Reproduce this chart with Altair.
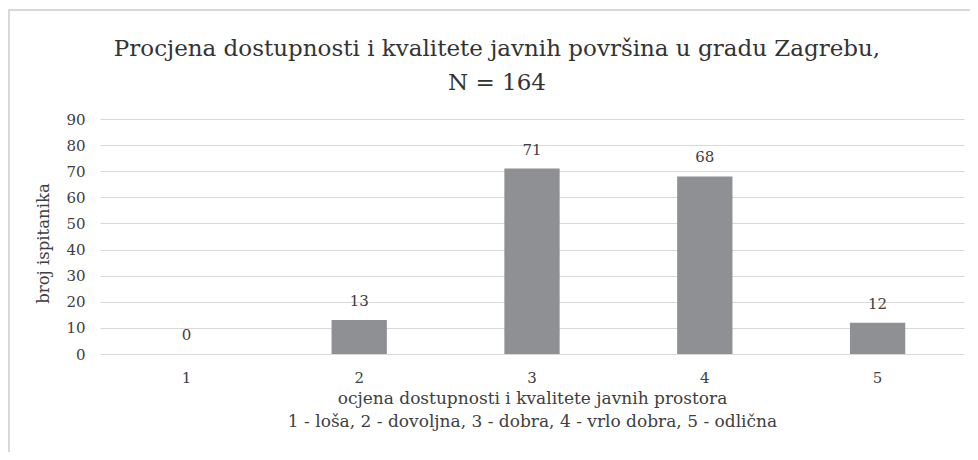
import altair as alt
import pandas as pd

categories = ["1", "2", "3", "4", "5"]
counts = [0, 13, 71, 68, 12]
y_ticks = [0, 10, 20, 30, 40, 50, 60, 70, 80, 90]
title_lines = ["Procjena dostupnosti i kvalitete javnih površina u gradu Zagrebu,", "N = 164"]
x_title = ["ocjena dostupnosti i kvalitete javnih prostora",
           "1 - loša, 2 - dovoljna, 3 - dobra, 4 - vrlo dobra, 5 - odlična"]
y_title = "broj ispitanika"

df = pd.DataFrame({"ocjena": categories, "broj": counts})
FONT = "DejaVu Serif"
TXT = "#404040"

x_axis = alt.Axis(title=x_title, labelAngle=0, ticks=False, domain=False,
                  labelFont=FONT, labelFontSize=15, labelColor=TXT,
                  labelBaseline="alphabetic", labelPadding=28,
                  titleFont=FONT, titleFontSize=17, titleFontWeight="normal",
                  titleColor=TXT, titleLineHeight=23,
                  titleBaseline="alphabetic", titleY=49)
y_axis = alt.Axis(title=y_title, values=y_ticks, ticks=False, domain=False,
                  gridColor="#d9d9d9", gridWidth=1, labelOverlap=False,
                  labelFont=FONT, labelFontSize=15, labelColor=TXT,
                  labelPadding=15,
                  titleFont=FONT, titleFontSize=16.5, titleFontWeight="normal",
                  titleColor=TXT, titleAngle=-90,
                  titleBaseline="alphabetic", titleAlign="center",
                  titleX=-52, titleY=124)

x_enc = alt.X("ocjena:N", sort=categories,
              scale=alt.Scale(paddingInner=0.68, paddingOuter=0.34), axis=x_axis)
y_enc = alt.Y("broj:Q", scale=alt.Scale(domain=[0, 90], nice=False), axis=y_axis)

bars = alt.Chart(df).mark_bar(color="#8f9094").encode(x=x_enc, y=y_enc)
labels = alt.Chart(df).mark_text(font=FONT, fontSize=15, color=TXT,
                                 baseline="alphabetic", dy=-14).encode(
    x=x_enc, y=y_enc, text="broj:Q")

frame = alt.Chart(pd.DataFrame({"k": [0]})).mark_rect(
    fill=None, stroke="#d9d9d9", strokeWidth=2).encode(
    x=alt.value(-91), x2=alt.value(1000), y=alt.value(-109), y2=alt.value(600))

chart = alt.layer(frame, bars, labels).properties(
    width=864, height=235,
    autosize=alt.AutoSizeParams(type="none"),
    padding={"left": 92, "top": 111, "right": 6, "bottom": 98},
    title=alt.TitleParams(text=title_lines, font=FONT, fontSize=23,
                          fontWeight="normal", color="#333333", anchor="middle",
                          baseline="alphabetic", lineHeight=34, dx=-35, dy=114,
                          offset=10),
).configure_view(stroke=None)

chart.save("out.html", embed_options={"renderer": "svg", "actions": False})
